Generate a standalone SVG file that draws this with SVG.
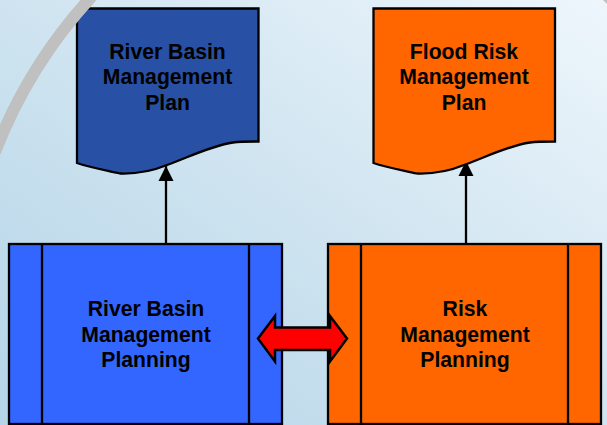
<svg xmlns="http://www.w3.org/2000/svg" width="607" height="425" viewBox="0 0 607 425">
<style>
.n{stroke:#000;stroke-width:2.3;stroke-linejoin:miter}
.t{font-family:"Liberation Sans",Arial,sans-serif;font-weight:700;font-size:21.2px;fill:#000;text-anchor:middle}
.c{stroke:#000;stroke-width:2.3;fill:none}
.a{fill:none;stroke:#c0c0c0;stroke-width:12}
</style>
<defs>
<linearGradient id="bg" x1="0" y1="1" x2="1" y2="0">
<stop offset="0" stop-color="#b4d4e8"/><stop offset="0.5" stop-color="#cfe4f0"/><stop offset="1" stop-color="#eef6fc"/>
</linearGradient>
<marker id="ah" markerUnits="userSpaceOnUse" markerWidth="16" markerHeight="16" refX="15" refY="8" orient="auto"><path d="M0 0.500L15 8L0 15.500Z" fill="#000"/></marker>
</defs>
<rect width="607" height="425" fill="url(#bg)"/>
<g id="connectors">
<path class="c" d="M166 243V166" marker-end="url(#ah)"/>
<path class="c" d="M466 244V161" marker-end="url(#ah)"/>
</g>
<g id="plan-rb">
<path class="n" fill="#2850a4" d="M77 8.500H258.500V141.500C250 141.500 240 141.500 233 142.500C210 146 187 158 167 165C150 172 135 174 120 173.500C105 170 90 167.500 77 163Z"/>
<text class="t" x="167.500" y="58.500">River Basin</text><text class="t" x="167.500" y="84">Management</text><text class="t" x="167.500" y="109.500">Plan</text>
</g>
<g id="plan-fr">
<path class="n" fill="#ff6600" d="M373.500 8.500H555V141.500C547 141.500 537 141.500 530 142.500C507 146 484 158 464 165C447 172 432 174 417 173.500C402 170 387 167.500 373.500 163Z"/>
<text class="t" x="464" y="58.500">Flood Risk</text><text class="t" x="464" y="84">Management</text><text class="t" x="464" y="109.500">Plan</text>
</g>
<g id="planning-rb">
<rect class="n" fill="#3366ff" x="9" y="244" width="273" height="180"/>
<path class="c" d="M42 244V424M249 244V424"/>
<text class="t" x="146" y="315.500">River Basin</text><text class="t" x="146" y="341.500">Management</text><text class="t" x="146" y="366.500">Planning</text>
</g>
<g id="planning-r">
<rect class="n" fill="#ff6600" x="328" y="244" width="273" height="180"/>
<path class="c" d="M361 244V424M568 244V424"/>
<text class="t" x="465" y="315.500">Risk</text><text class="t" x="465" y="341.500">Management</text><text class="t" x="465" y="366.500">Planning</text>
</g>
<g id="double-arrow">
<path fill="#ff0000" stroke="#000" stroke-width="2.500" d="M258 338.500L275 316V327.500H330V316L347 338.500L330 361.500V350H275V361.500Z"/>
</g>
<path class="a" d="M93 -5Q29 64 -5 152"/>
<path d="M603 0L607 4V0Z" fill="#c0c0c0"/>
</svg>
